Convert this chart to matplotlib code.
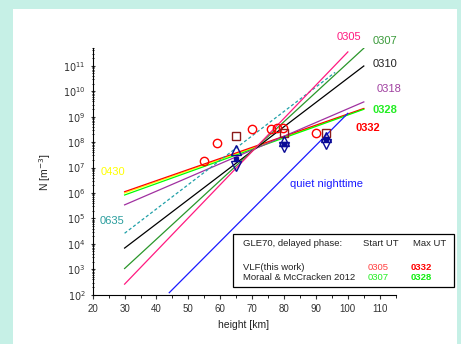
import matplotlib.pyplot as plt
from matplotlib.patches import Rectangle
from matplotlib.ticker import LogLocator, NullFormatter

plt.rcParams['font.family'] = ['Liberation Sans', 'DejaVu Sans']

# model profiles: start/end height [km] and density [m^-3]
line_names = ['0430', '0332', '0328', '0318', '0635', '0310', '0307', '0305', 'quiet']
line_h = [(30, 105), (30, 105), (30, 105), (30, 105), (30, 96),
          (30, 105), (30, 105), (30, 100), (44, 100)]
line_n = [(1.0e6, 2.0e9), (1.12e6, 2.1e9), (8.3e5, 1.95e9), (3.4e5, 3.8e9),
          (2.6e4, 5.5e10), (6.8e3, 9.8e10), (1.07e3, 4.9e11), (2.6e2, 3.5e11),
          (1.2e2, 1.35e9)]
line_colors = ['#ffff00', '#ff0000', '#00ff00', '#a030a0', '#20a0a8',
               '#000000', '#2a962a', '#ff1a80', '#1a1aff']

# measurements
circ_h = [54.9, 58.9, 69.8, 75.8, 77.7, 79.8, 90]
circ_n = [1.8e7, 9.5e7, 3.2e8, 3.2e8, 3.7e8, 3.7e8, 2.3e8]
sq_h = [65, 80, 93]
sq_n = [1.7e8, 2.2e8, 2.3e8]
tri_h = [65, 80, 93]
tri_up = [4.7e7, 1.1e8, 1.65e8]
tri_dn = [1.1e7, 6.5e7, 8.5e7]
dot_n = [2.2e7, 8.2e7, 1.3e8]

fig = plt.figure(figsize=(4.61, 3.44), dpi=100)
fig.patch.set_facecolor('#c6f0e6')
fig.patches.append(Rectangle((13/461, 0), 444/461, 335/344, transform=fig.transFigure,
                             facecolor='white', edgecolor='none', zorder=-1))

ax = fig.add_axes([92.7/461, (344-294.7)/344, 303/461, 246.7/344])
ax.set_facecolor('none')

for (h0, h1), (n0, n1), c, name in zip(line_h, line_n, line_colors, line_names):
    if name == '0635':
        ax.plot([h0, h1], [n0, n1], color=c, lw=0.9, ls='--', dashes=(2.5, 1.8))
    else:
        ax.plot([h0, h1], [n0, n1], color=c, lw=0.9)

ax.plot(circ_h, circ_n, 'o', mfc='none', mec='#ff0000', ms=6, mew=1.0)
ax.plot(sq_h, sq_n, 's', mfc='none', mec='#8b1a1a', ms=5.5, mew=1.0)
ax.plot(tri_h, tri_up, '^', mfc='none', mec='#0a0a96', ms=6.5, mew=1.0)
ax.plot(tri_h, tri_dn, 'v', mfc='none', mec='#0a0a96', ms=6.5, mew=1.0)
ax.plot(tri_h, dot_n, 's', color='#0a0a96', ms=2.8)

ax.set_yscale('log')
ax.set_xlim(20, 115)
ax.set_ylim(1e2, 5e11)
ax.set_xticks(range(20, 111, 10))
ax.set_xticks(range(25, 116, 10), minor=True)
ax.set_yticks([10.0**k for k in range(2, 12)])
ax.set_yticklabels([f'$10^{{{k}}}$' for k in range(2, 12)])
ax.yaxis.set_minor_locator(LogLocator(base=10, subs=range(2, 10), numticks=100))
ax.yaxis.set_minor_formatter(NullFormatter())
for s in ['top', 'right']:
    ax.spines[s].set_visible(False)
ax.spines['bottom'].set_bounds(20, 115)
ax.tick_params(labelsize=7, width=0.8, length=3, color='#333333', labelcolor='#333333')
ax.tick_params(which='minor', width=0.6, length=2)
ax.tick_params(axis='y', which='both', direction='inout')

# line labels
lab = [('0305', 100.3, 10**12.13, '#ff1a80', 'normal'),
       ('0307', 111.6, 10**11.98, '#3a9a3a', 'normal'),
       ('0310', 111.6, 10**11.07, '#222222', 'normal'),
       ('0318', 112.9, 10**10.08, '#a040a0', 'normal'),
       ('0328', 111.6, 10**9.25, '#22ee22', 'bold'),
       ('0332', 106.3, 10**8.54, '#ff0000', 'bold'),
       ('0430', 26.4, 10**6.82, '#ffff00', 'normal'),
       ('0635', 26.2, 10**4.90, '#2a9d9d', 'normal'),
       ('quiet nighttime', 93.2, 10**6.36, '#1a1aff', 'normal')]
for t, x, y, c, w in lab:
    ax.text(x, y, t, color=c, fontsize=8, fontweight=w, ha='center', va='center', clip_on=False)

fig.text(45/461, 0.5, 'N [m$^{-3}$]', rotation=90, ha='center', va='center', fontsize=7.5, color='#222222')
fig.text(244/461, (344-324.7)/344, 'height [km]', ha='center', va='center', fontsize=7.5, color='#222222')

# legend box
fig.patches.append(Rectangle((233/461, (344-287)/344), 221/461, 53/344, transform=fig.transFigure,
                             facecolor='white', edgecolor='black', lw=0.9, zorder=3))
y1, y2, y3 = (344-243.7)/344, (344-267)/344, (344-278)/344
fs = 6.8
fig.text(243/461, y1, 'GLE70, delayed phase:', fontsize=fs, va='center', color='#222222', zorder=4)
fig.text(380.7/461, y1, 'Start UT', fontsize=fs, va='center', ha='center', color='#222222', zorder=4)
fig.text(429.3/461, y1, 'Max UT', fontsize=fs, va='center', ha='center', color='#222222', zorder=4)
fig.text(243/461, y2, 'VLF(this work)', fontsize=fs, va='center', color='#222222', zorder=4)
fig.text(378/461, y2, '0305', fontsize=fs, va='center', ha='center', color='#ff4040', zorder=4)
fig.text(421.7/461, y2, '0332', fontsize=fs, va='center', ha='center', color='#ff0000', fontweight='bold', zorder=4)
fig.text(243/461, y3, 'Moraal & McCracken 2012', fontsize=fs, va='center', color='#222222', zorder=4)
fig.text(378/461, y3, '0307', fontsize=fs, va='center', ha='center', color='#22ee22', zorder=4)
fig.text(421.7/461, y3, '0328', fontsize=fs, va='center', ha='center', color='#11ee11', fontweight='bold', zorder=4)

fig.savefig('out.png', dpi=100, facecolor=fig.get_facecolor())
